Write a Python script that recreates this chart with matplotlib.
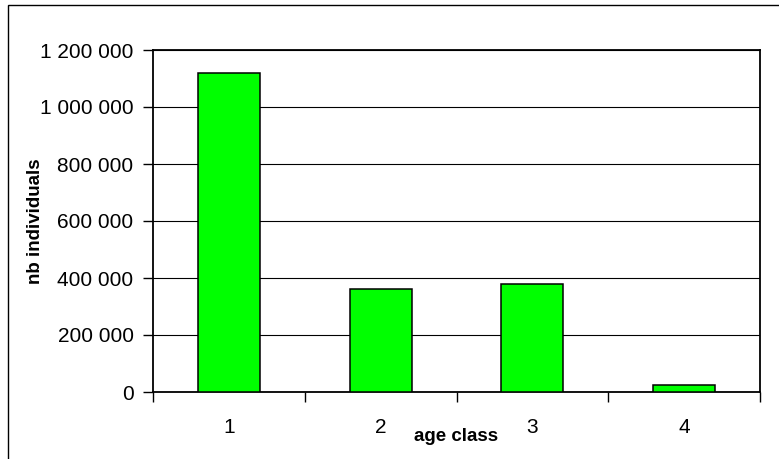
import matplotlib
matplotlib.use("Agg")
import matplotlib.pyplot as plt
from matplotlib.ticker import FuncFormatter, FixedLocator, MultipleLocator
from matplotlib.patches import Rectangle

plt.rcParams['font.family'] = ['Liberation Sans', 'DejaVu Sans']

# Data
age_classes = ["1", "2", "3", "4"]
individuals = [1120000, 362000, 380000, 23000]

W, H = 779, 459
DPI = 100
fig = plt.figure(figsize=(W / DPI, H / DPI), dpi=DPI)
fig.patch.set_facecolor("white")

# chart frame (left and top edges only show on the canvas)
fig.patches.append(Rectangle((8 / W, -0.1), 1.2, 1 - 5 / H + 0.1,
                             transform=fig.transFigure, fill=False,
                             edgecolor="black", linewidth=1.0, zorder=0))

left, right, top, bottom = 153, 760, 50, 392
ax = fig.add_axes([left / W, 1 - bottom / H, (right - left) / W, (bottom - top) / H])

x = list(range(1, len(age_classes) + 1))
ax.bar(x, individuals, width=0.41, color="#00FF00", edgecolor="black",
       linewidth=1.1, zorder=3)

ax.set_xlim(0.5, len(age_classes) + 0.5)
ax.set_ylim(0, 1200000)

# y axis
ax.yaxis.set_major_locator(MultipleLocator(200000))
ax.yaxis.set_major_formatter(FuncFormatter(lambda v, p: f"{int(v):,}".replace(",", " ")))
ax.yaxis.grid(True, color="black", linewidth=0.8, zorder=1)
ax.set_axisbelow(True)
ax.tick_params(axis="y", direction="out", length=7, width=1.0, pad=7,
               labelsize=15, colors="black")

# x axis: tick marks between categories, labels at category centres
ax.xaxis.set_major_locator(FixedLocator([i + 0.5 for i in range(0, len(age_classes) + 1)]))
ax.xaxis.set_major_formatter(FuncFormatter(lambda v, p: ""))
ax.xaxis.set_minor_locator(FixedLocator(x))
ax.set_xticks(x, minor=True)
ax.set_xticklabels(age_classes, minor=True)
ax.tick_params(axis="x", which="major", direction="out", length=7, width=1.0)
ax.tick_params(axis="x", which="minor", length=0, pad=19, labelsize=15)

for s in ax.spines.values():
    s.set_color("black")
    s.set_linewidth(1.3)

ax.set_xlabel("age class", fontsize=13.5, fontweight="bold", va="center")
ax.xaxis.set_label_coords(0.5, -(436.7 - bottom) / (bottom - top))
ax.set_ylabel("nb individuals", fontsize=13.5, fontweight="bold", va="center")
ax.yaxis.set_label_coords(-(left - 35) / (right - left), 0.5)

fig.savefig("out.png", dpi=DPI, facecolor="white")
